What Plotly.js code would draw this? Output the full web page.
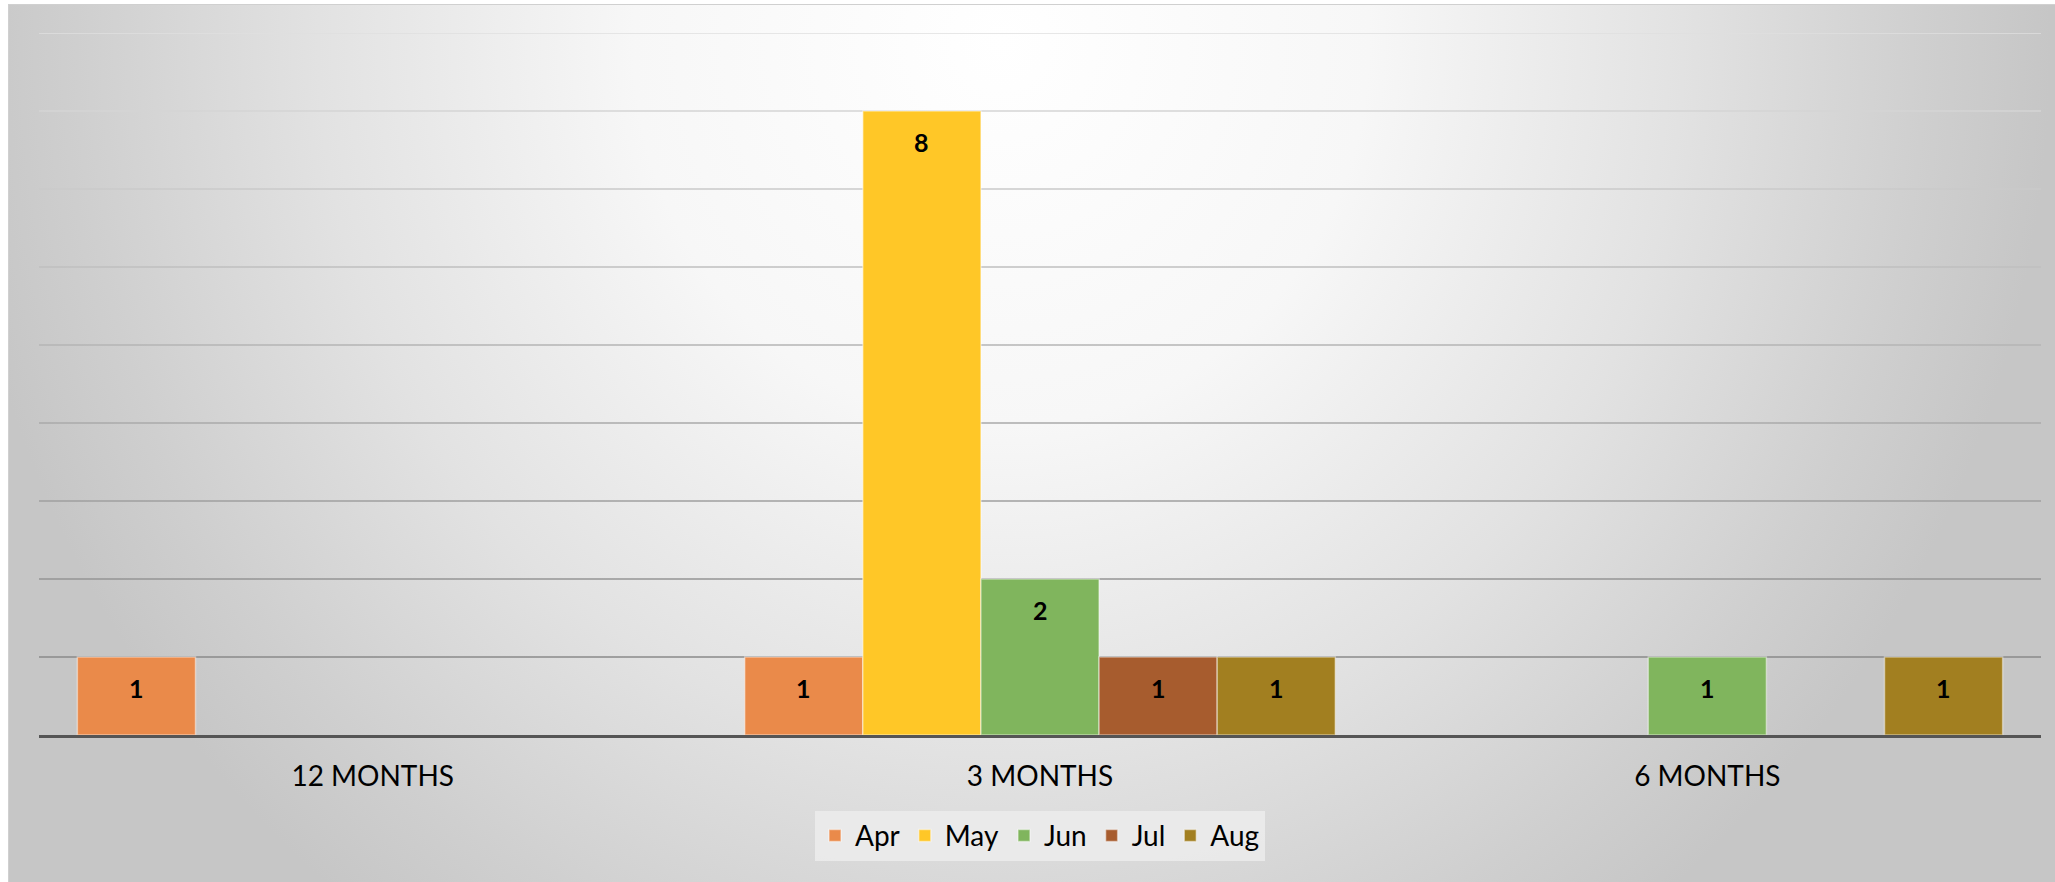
<!DOCTYPE html>
<html>
<head>
<meta charset="utf-8">
<script src="https://cdn.plot.ly/plotly-3.0.1.min.js"></script>
<style>
  html, body { margin: 0; padding: 0; background: #ffffff; width: 2055px; height: 882px; overflow: hidden; }
  #bg {
    position: absolute; left: 8px; top: 4px; width: 2047px; height: 878px;
    border-left: 1px solid #d0d0d0; border-top: 1px solid #d0d0d0;
    background: radial-gradient(ellipse 1050px 1100px at 992px 36px,
      #ffffff 0%, #f7f7f7 35%, #e2e2e2 65%, #cfcfcf 88%, #c6c6c6 100%);
    background-color: #c4c4c4;
  }
  #chart { position: absolute; left: 0; top: 0; width: 2055px; height: 882px; }
</style>
</head>
<body>
<div id="bg"></div>
<div id="chart"></div>
<script>
// ---- data ----
const categories = ["12 MONTHS", "3 MONTHS", "6 MONTHS"];
const months = ["Apr", "May", "Jun", "Jul", "Aug"];
const aprValues = [1, 1, null];
const mayValues = [null, 8, null];
const junValues = [null, 2, 1];
const julValues = [null, 1, null];
const augValues = [null, 1, 1];
const yTicks = [1, 2, 3, 4, 5, 6, 7, 8, 9];

// ---- styles ----
const seriesValues = [aprValues, mayValues, junValues, julValues, augValues];
const colors = ["#EA8A4A", "#FFC727", "#80B55D", "#A75C2E", "#A27F20"];
const bargap = 0.115;
const font = "Lato, 'Open Sans', 'DejaVu Sans', sans-serif";

const traces = months.map((m, i) => ({
  type: "bar",
  name: m,
  x: categories,
  y: seriesValues[i],
  marker: { color: colors[i], line: { color: "rgba(255,255,255,0.45)", width: 1.5 } },
  hoverinfo: "x+y+name"
}));

// data labels (inside end) placed via the axis scales
const barW = (1 - bargap) / months.length;
const annotations = [];
seriesValues.forEach((vals, i) => {
  vals.forEach((v, ci) => {
    if (v === null) return;
    annotations.push({
      x: ci + (i - (months.length - 1) / 2) * barW,
      y: v, xref: "x", yref: "y",
      text: String(v), showarrow: false,
      yanchor: "middle", yshift: -30.5,
      font: { family: font, size: 25, color: "#000000", weight: "bold" }
    });
  });
});

// gridlines: darker towards the bottom
function lerp(a, b, t) { return Math.round(a + (b - a) * t); }
const shapes = yTicks.map(v => {
  const t = (v - 1) / (yTicks.length - 1); // 0 bottom, 1 top
  const g = lerp(0x8a, 0xdf, t);
  return {
    type: "line", xref: "paper", yref: "y", x0: 0, x1: 1, y0: v, y1: v,
    layer: "below", line: { color: `rgb(${g},${g},${g})`, width: 1.6 }
  };
});

const layout = {
  width: 2055, height: 882,
  margin: { l: 39, r: 14, t: 33, b: 147, pad: 0 },
  paper_bgcolor: "rgba(0,0,0,0)",
  plot_bgcolor: "rgba(0,0,0,0)",
  barmode: "group",
  bargap: bargap,
  bargroupgap: 0,
  showlegend: true,
  font: { family: font, color: "#000000" },
  xaxis: {
    type: "category",
    showline: true, linecolor: "#555555", linewidth: 3,
    ticks: "", showgrid: false, zeroline: false,
    tickfont: { family: font, size: 28, color: "#000000" },
    ticklabelstandoff: 14
  },
  yaxis: {
    range: [0, 9], showgrid: false, zeroline: false,
    showticklabels: false, ticks: "", showline: false, fixedrange: true
  },
  legend: {
    orientation: "h", x: 0.5, xanchor: "center", y: -0.108, yanchor: "top",
    bgcolor: "rgba(236,236,236,0.85)",
    font: { family: font, size: 28, color: "#000000" },
    itemwidth: 30, traceorder: "normal"
  },
  shapes: shapes,
  annotations: annotations
};

Plotly.newPlot("chart", traces, layout, { displayModeBar: false, staticPlot: true });
</script>
</body>
</html>
